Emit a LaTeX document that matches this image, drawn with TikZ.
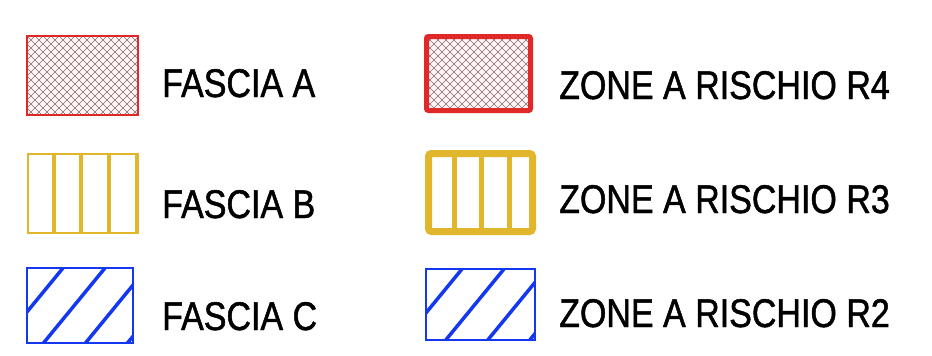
\documentclass[tikz,border=0pt]{standalone}
\usepackage{fontspec}
\setmainfont{Liberation Sans}[FakeStretch=0.85,FakeBold=1.2]
\definecolor{hred}{HTML}{E02828}
\definecolor{hgold}{HTML}{E2B62C}
\definecolor{hblue}{HTML}{1438F0}
\definecolor{hmesh}{HTML}{8A6A74}
\tikzset{
  lbl/.style={anchor=base west, inner sep=0pt, font=\fontsize{40}{40}\selectfont},
  meshline/.style={draw=hmesh, line width=0.6pt},
  boxnode/.style={inner sep=0pt, outer sep=0pt, anchor=north west},
}
\newcommand{\meshfill}[4]{%
  \begin{scope}
    \clip (#1,#2) rectangle (#3,#4);
    \fill[red!4] (#1,#2) rectangle (#3,#4);
    \foreach \c in {-96,-88,...,216} {
      \draw[meshline] (#1+\c,#2) -- ++(110,110);
      \draw[meshline] (#1+\c,#2) -- ++(-110,110);
    }
  \end{scope}}
\newcommand{\diagfill}[4]{%
  \begin{scope}
    \clip (#1,#2) rectangle (#3,#4);
    \foreach \c in {36,78,120,162} {
      \draw[hblue, line width=3.5pt] (#1+\c,#2) -- ++(-82,100);
    }
  \end{scope}}
\begin{document}
\begin{tikzpicture}[x=1pt,y=-1pt]
\useasboundingbox[fill=white] (0,0) rectangle (932,356);

% ---- FASCIA A
\meshfill{27}{36}{138}{115}
\node[boxnode, draw=hred, line width=1.2pt, minimum width=111pt, minimum height=79pt] (boxA) at (27,36) {};
\node[lbl] (txtA) at (162,97) {FASCIA A};

% ---- FASCIA B
\node[boxnode, draw=hgold, line width=1.5pt, minimum width=110pt, minimum height=79pt] (boxB) at (28,154) {};
\foreach \xx in {54,81,109} \draw[hgold, line width=3.5pt] (\xx,154) -- (\xx,233);
\draw[hgold, line width=4pt] (136.5,153.3) -- (136.5,233.7);
\node[lbl] (txtB) at (162,218) {FASCIA B};

% ---- FASCIA C
\diagfill{27}{268}{133}{343}
\node[boxnode, draw=hblue, line width=2.6pt, minimum width=106pt, minimum height=75pt] (boxC) at (27,268) {};
\node[lbl] (txtC) at (162,330) {FASCIA C};

% ---- R4
\meshfill{426}{36}{531}{111}
\node[boxnode, draw=hred, line width=5pt, rounded corners=2pt, minimum width=104pt, minimum height=74pt] (boxR4) at (426.5,36.5) {};
\node[lbl] (txtR4) at (559,99) {ZONE A RISCHIO R4};

% ---- R3
\foreach \xx in {454,481,509} \draw[hgold, line width=5pt] (\xx,152) -- (\xx,233);
\node[boxnode, draw=hgold, line width=7pt, rounded corners=3pt, minimum width=104pt, minimum height=78pt] (boxR3) at (428.5,153.5) {};
\node[lbl] (txtR3) at (559,213) {ZONE A RISCHIO R3};

% ---- R2
\diagfill{426}{269}{535}{340}
\node[boxnode, draw=hblue, line width=2.6pt, minimum width=109pt, minimum height=71pt] (boxR2) at (426,269) {};
\node[lbl] (txtR2) at (559,327) {ZONE A RISCHIO R2};
\end{tikzpicture}
\end{document}
